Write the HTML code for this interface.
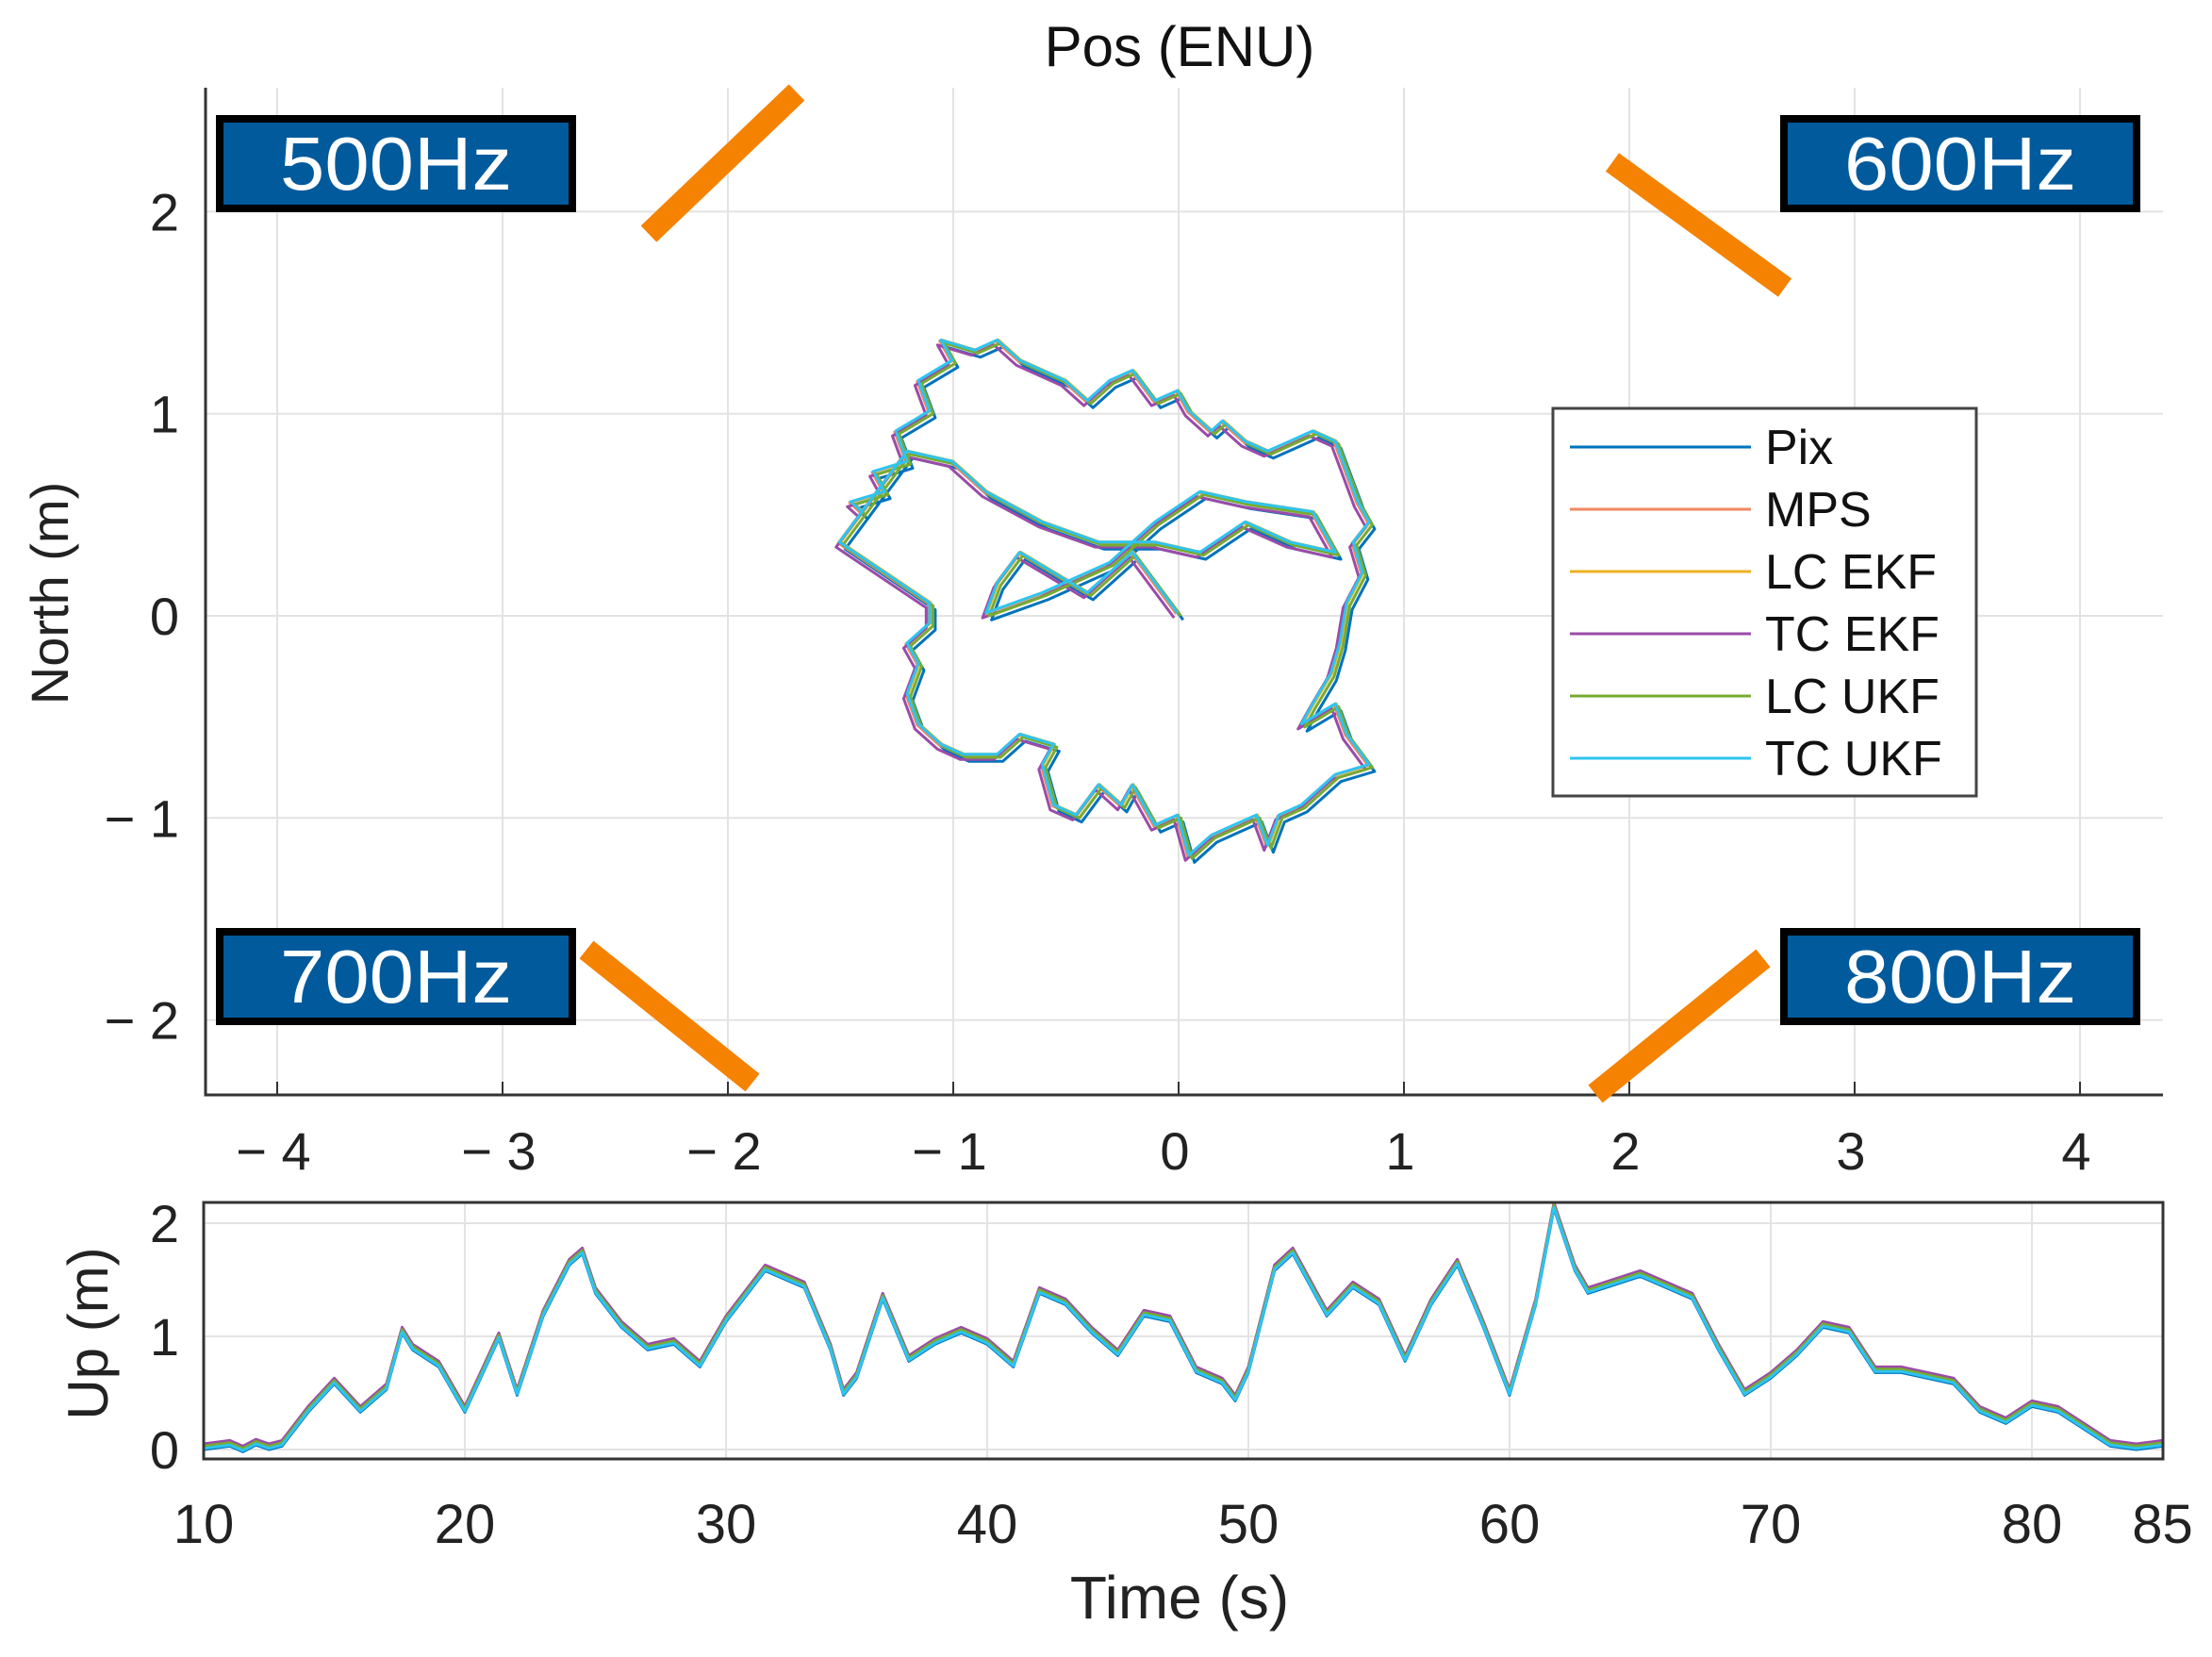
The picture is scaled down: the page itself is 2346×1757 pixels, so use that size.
<!DOCTYPE html>
<html><head><meta charset="utf-8">
<style>
html,body{margin:0;padding:0;background:#fff;}
svg{display:block;font-family:"Liberation Sans",sans-serif;}
</style></head>
<body>
<svg id="fig" width="2346" height="1757" viewBox="0 0 2346 1757" xmlns="http://www.w3.org/2000/svg">
<rect width="2346" height="1757" fill="#fff"/>
<text x="1251" y="70" font-size="60" text-anchor="middle" fill="#111">Pos (ENU)</text>
<g id="topG"></g>
<g id="botG"></g>
<text x="72" y="629" font-size="56" text-anchor="middle" fill="#222" transform="rotate(-90 72 629)">North (m)</text>
<text x="114" y="1414" font-size="60" text-anchor="middle" fill="#222" transform="rotate(-90 114 1414)">Up (m)</text>
<text x="1251" y="1716" font-size="64" text-anchor="middle" fill="#222">Time (s)</text>
<g>
<rect x="1647" y="433" width="449" height="411" fill="#fff" stroke="#444" stroke-width="3"/>
<g id="legG"></g>
</g>
<g>
<rect x="233" y="126" width="374" height="95" fill="#005a9c" stroke="#000" stroke-width="8"/>
<text x="420" y="201" font-size="80" fill="#fff" text-anchor="middle" textLength="246" lengthAdjust="spacingAndGlyphs">500Hz</text>
<line x1="688" y1="248" x2="845" y2="98" stroke="#f58200" stroke-width="24"/>
</g>
<g>
<rect x="1892" y="126" width="374" height="95" fill="#005a9c" stroke="#000" stroke-width="8"/>
<text x="2079" y="201" font-size="80" fill="#fff" text-anchor="middle" textLength="246" lengthAdjust="spacingAndGlyphs">600Hz</text>
<line x1="1710" y1="172" x2="1893" y2="305" stroke="#f58200" stroke-width="24"/>
</g>
<g>
<rect x="233" y="988" width="374" height="95" fill="#005a9c" stroke="#000" stroke-width="8"/>
<text x="420" y="1063" font-size="80" fill="#fff" text-anchor="middle" textLength="246" lengthAdjust="spacingAndGlyphs">700Hz</text>
<line x1="622" y1="1007" x2="798" y2="1148" stroke="#f58200" stroke-width="24"/>
</g>
<g>
<rect x="1892" y="988" width="374" height="95" fill="#005a9c" stroke="#000" stroke-width="8"/>
<text x="2079" y="1063" font-size="80" fill="#fff" text-anchor="middle" textLength="246" lengthAdjust="spacingAndGlyphs">800Hz</text>
<line x1="1692" y1="1160" x2="1870" y2="1016" stroke="#f58200" stroke-width="24"/>
</g>
</svg>
<script>
const seriesNames = ["Pix","MPS","LC EKF","TC EKF","LC UKF","TC UKF"];
const seriesColors = ["#0072BD","#F0875F","#EDB120","#9B4BA8","#77AC30","#2EC4F0"];
const xTicksTop = [-4,-3,-2,-1,0,1,2,3,4];
const yTicksTop = [-2,-1,0,1,2];
const tTicks = [10,20,30,40,50,60,70,80,85];
const upTicks = [0,1,2];
const pathE = [-1.5,-1.4,-1.45,-1.3,-1.35,-1.2,-1.25,-1.1,-1.15,-1.0,-1.05,-0.9,-0.8,-0.7,-0.6,-0.5,-0.4,-0.3,-0.2,-0.1,0.0,0.05,0.15,0.2,0.3,0.4,0.5,0.6,0.7,0.75,0.8,0.85,0.78,0.82,0.75,0.72,0.68,0.6,0.55,0.7,0.75,0.85,0.7,0.55,0.45,0.4,0.35,0.25,0.15,0.05,0.0,-0.1,-0.2,-0.25,-0.35,-0.45,-0.55,-0.6,-0.55,-0.7,-0.8,-0.95,-1.05,-1.15,-1.2,-1.15,-1.2,-1.1,-1.1,-1.3,-1.5,-1.2,-1.0,-0.85,-0.6,-0.35,-0.1,0.1,0.3,0.5,0.7,0.6,0.3,0.1,-0.1,-0.3,-0.6,-0.85,-0.8,-0.7,-0.55,-0.4,-0.2,-0.1,0.0];
const pathN = [0.35,0.5,0.55,0.6,0.7,0.75,0.9,1.0,1.15,1.25,1.35,1.3,1.35,1.25,1.2,1.15,1.05,1.15,1.2,1.05,1.1,1.0,0.9,0.95,0.85,0.8,0.85,0.9,0.85,0.7,0.55,0.45,0.35,0.2,0.05,-0.15,-0.3,-0.45,-0.55,-0.45,-0.6,-0.75,-0.8,-0.95,-1.0,-1.15,-1.0,-1.05,-1.1,-1.2,-1.0,-1.05,-0.85,-0.95,-0.85,-1.0,-0.95,-0.75,-0.65,-0.6,-0.7,-0.7,-0.65,-0.55,-0.4,-0.25,-0.15,-0.05,0.05,0.2,0.35,0.8,0.75,0.6,0.45,0.35,0.35,0.3,0.45,0.35,0.3,0.5,0.55,0.6,0.45,0.25,0.1,0.0,0.15,0.3,0.2,0.1,0.3,0.15,0.0];
const offE = [0.02,-0.01,0.0,-0.02,0.01,-0.005];
const offN = [-0.02,0.01,0.015,-0.01,0.0,0.015];
const time = [10,11,11.5,12,12.5,13,14,15,16,17,17.6,18,19,20,21,21.3,22,23,24,24.5,25,26,27,28,29,30,31,31.5,33,34,34.5,35,36,37,38,39,40,41,42,43,44,45,46,47,48,49,49.5,50,51,51.7,53,54,55,56,57,58,59,60,61,61.7,62.5,63,65,67,68,69,70,71,72,73,74,75,76,77,78,79,80,81,82,83,84,85];
const upVals = [0.02,0.05,0.0,0.06,0.02,0.05,0.35,0.6,0.35,0.55,1.05,0.9,0.75,0.35,0.85,1.0,0.5,1.2,1.65,1.75,1.4,1.1,0.9,0.95,0.75,1.15,1.45,1.6,1.45,0.9,0.5,0.65,1.35,0.8,0.95,1.05,0.95,0.75,1.4,1.3,1.05,0.85,1.2,1.15,0.7,0.6,0.45,0.7,1.6,1.75,1.2,1.45,1.3,0.8,1.3,1.65,1.1,0.5,1.3,2.15,1.6,1.4,1.55,1.35,0.9,0.5,0.65,0.85,1.1,1.05,0.7,0.7,0.65,0.6,0.35,0.25,0.4,0.35,0.2,0.05,0.02,0.05];
const upOff = [-0.02,0.01,0.02,0.03,0.01,-0.01];

const NS="http://www.w3.org/2000/svg";
function mk(tag,attrs,parent){const e=document.createElementNS(NS,tag);for(const k in attrs)e.setAttribute(k,attrs[k]);parent.appendChild(e);return e;}
const topGrp=document.getElementById('topG'), botGrp=document.getElementById('botG'), legGrp=document.getElementById('legG');
const TL=218,TR=2294,TT=93,TB=1161;
const xE=v=>1250+v*239, yN=v=>653-v*214.3;
xTicksTop.forEach(v=>{
 const g=mk('line',{x1:xE(v),x2:xE(v),y1:TT,y2:TB,stroke:'#e3e3e3','stroke-width':2},topGrp);
 
 
 const tk=mk('line',{x1:xE(v),x2:xE(v),y1:TB,y2:TB-14,stroke:'#333','stroke-width':2},topGrp);
 
 
 const t=mk('text',{x:xE(v)-4,y:1240,'font-size':56,'text-anchor':'middle',fill:'#222'},topGrp);
 t.textContent=v<0?'\u2212 '+(-v):String(v);
 
 
});
yTicksTop.forEach(v=>{
 const g=mk('line',{x1:TL,x2:TR,y1:yN(v),y2:yN(v),stroke:'#e3e3e3','stroke-width':2},topGrp);
 
 
 const t=mk('text',{x:190,y:yN(v)+20,'font-size':56,'text-anchor':'end',fill:'#222'},topGrp);
 t.textContent=v<0?'\u2212 '+(-v):String(v);
 
 
});
const ax=mk('path',{d:`M${TL},${TT}V${TB}H${TR}`,fill:'none',stroke:'#333','stroke-width':3},topGrp);


const nPath=Math.min(pathE.length,pathN.length);
seriesNames.forEach((n,i)=>{
 let d='';
 for(let j=0;j<nPath;j++){d+=(j?'L':'M')+xE(pathE[j]+offE[i]).toFixed(1)+','+yN(pathN[j]+offN[i]).toFixed(1);}
 const p=mk('path',{d:d,fill:'none',stroke:seriesColors[i],'stroke-width':3,'stroke-linejoin':'round'},topGrp);
 
 
 const y=474+i*66;
 const l=mk('line',{x1:1665,x2:1857,y1:y,y2:y,stroke:seriesColors[i],'stroke-width':3},legGrp);
 
 
 const t=mk('text',{x:1872,y:y+18,'font-size':52,fill:'#111'},legGrp);
 t.textContent=n;
 
 
});
const BL=216,BR=2294,BT=1275,BB=1547;
const xT=v=>BL+(v-10)*27.7, yU=v=>1537-v*120;
tTicks.forEach(v=>{
 const g=mk('line',{x1:xT(v),x2:xT(v),y1:BT,y2:BB,stroke:'#e3e3e3','stroke-width':2},botGrp);
 
 
 const t=mk('text',{x:xT(v),y:1636,'font-size':58,'text-anchor':'middle',fill:'#222'},botGrp);
 t.textContent=String(v);
 
 
});
upTicks.forEach(v=>{
 const g=mk('line',{x1:BL,x2:BR,y1:yU(v),y2:yU(v),stroke:'#e3e3e3','stroke-width':2},botGrp);
 
 
 const t=mk('text',{x:190,y:yU(v)+20,'font-size':56,'text-anchor':'end',fill:'#222'},botGrp);
 t.textContent=String(v);
 
 
});
const nUp=Math.min(time.length,upVals.length);
seriesNames.forEach((n,i)=>{
 let d='';
 for(let j=0;j<nUp;j++){d+=(j?'L':'M')+xT(time[j]).toFixed(1)+','+yU(upVals[j]+upOff[i]).toFixed(1);}
 const p=mk('path',{d:d,fill:'none',stroke:seriesColors[i],'stroke-width':3,'stroke-linejoin':'round'},botGrp);
 
 
});
const bx=mk('rect',{x:BL,y:BT,width:BR-BL,height:BB-BT,fill:'none',stroke:'#333','stroke-width':3},botGrp);


</script>
</body></html>
